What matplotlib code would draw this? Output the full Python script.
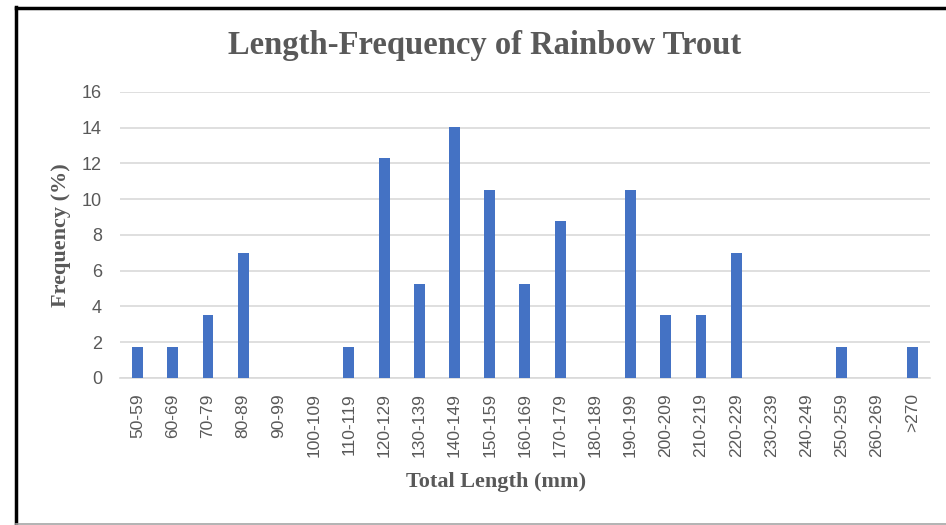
import matplotlib
matplotlib.use('Agg')
from matplotlib import pyplot as plt
from matplotlib.lines import Line2D

# length classes (mm) and percent of fish in each
classes = ['50-59', '60-69', '70-79', '80-89', '90-99', '100-109', '110-119',
           '120-129', '130-139', '140-149', '150-159', '160-169', '170-179',
           '180-189', '190-199', '200-209', '210-219', '220-229', '230-239',
           '240-249', '250-259', '260-269', '>270']
freq = [1.75, 1.75, 3.51, 7.02, 0, 0, 1.75,
        12.28, 5.26, 14.04, 10.53, 5.26, 8.77,
        0, 10.53, 3.51, 3.51, 7.02, 0,
        0, 1.75, 0, 1.75]

grey = '#595959'
serif = 'Liberation Serif'
sans = 'Liberation Sans'

fig = plt.figure(figsize=(9.46, 5.25), dpi=100)
ax = fig.add_axes([0.1268, 0.28, 0.983 - 0.1268, 0.8248 - 0.28])

x = range(len(classes))
ax.bar(x, freq, width=0.31, color='#4472C4', zorder=3)

ax.set_xlim(-0.5, len(classes) - 0.5)
ax.set_ylim(0, 16)
ax.set_yticks(range(0, 17, 2))
ax.set_xticks(list(x))
ax.set_xticklabels(classes, rotation=90, fontsize=12.5, color=grey, family=sans)
for lab in ax.get_yticklabels():
    lab.set_fontsize(13)
    lab.set_color(grey)
    lab.set_family(sans)

ax.grid(axis='y', color='#d9d9d9', linewidth=1.2, zorder=0)
for s in ['top', 'right', 'left']:
    ax.spines[s].set_visible(False)
ax.spines['bottom'].set_color('#d9d9d9')
ax.spines['bottom'].set_linewidth(1.2)
ax.tick_params(axis='both', length=0)
ax.tick_params(axis='y', pad=13)
ax.tick_params(axis='x', pad=11)

ax.set_ylabel('Frequency (%)', fontsize=16, fontweight='bold', color=grey,
              family=serif)
ax.set_xlabel('Total Length (mm)', fontsize=16, fontweight='bold', color=grey,
              family=serif)
ax.yaxis.set_label_coords(-0.06, 0.5)
ax.xaxis.set_label_coords(0.464, -0.33)
fig.text(0.512, 0.913, 'Length-Frequency of Rainbow Trout', ha='center', va='center',
         fontsize=23.5, fontweight='bold', color=grey, family=serif)

# chart frame like the screenshot: black left/top, grey bottom
fig.add_artist(Line2D([15.5 / 946, 15.5 / 946], [0, 1 - 7 / 525], color='black', linewidth=2.5,
                      transform=fig.transFigure))
fig.add_artist(Line2D([15.5 / 946, 1], [1 - 8 / 525, 1 - 8 / 525], color='black', linewidth=2.5,
                      transform=fig.transFigure))
fig.add_artist(Line2D([15.5 / 946, 1], [1.5 / 525, 1.5 / 525], color='#a6a6a6', linewidth=1.2,
                      transform=fig.transFigure))

plt.savefig('out.png', dpi=100)
